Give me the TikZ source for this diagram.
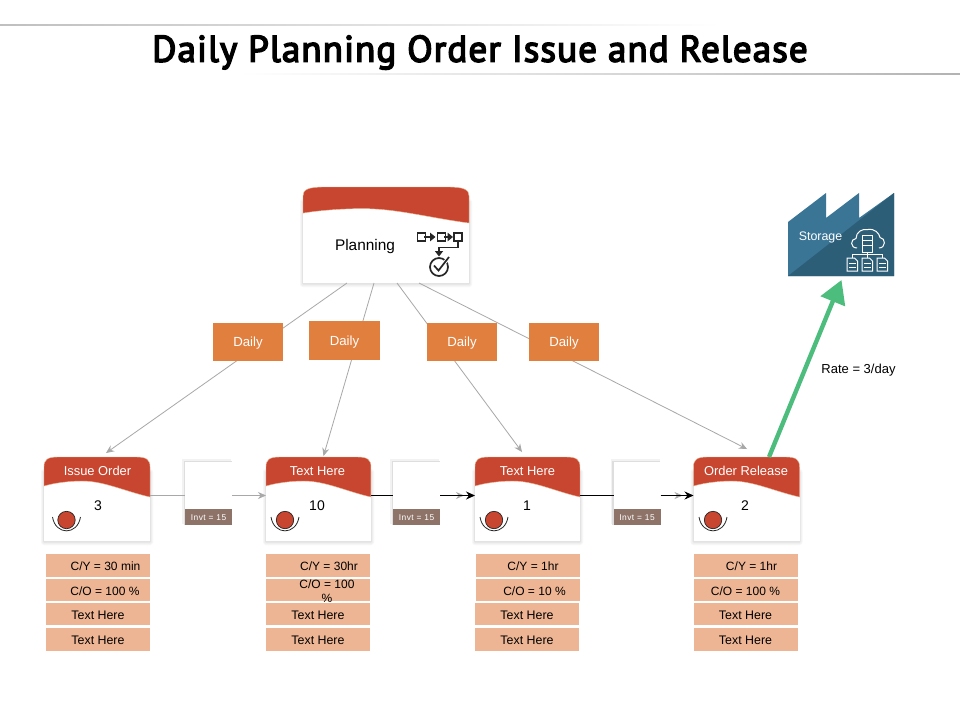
\documentclass[tikz,border=0pt]{standalone}
\usepackage{fontspec}
\setmainfont{Liberation Sans}
\newfontfamily\titlefont[FakeBold=4,LetterSpace=3]{PT Sans}
\usetikzlibrary{arrows.meta}
\definecolor{cardred}{HTML}{C8452F}
\definecolor{dailyor}{HTML}{E07F3E}
\definecolor{rowpeach}{HTML}{EDB594}
\definecolor{invbrown}{HTML}{8E7468}
\definecolor{linegrey}{HTML}{A8A8A8}
\definecolor{arrowgreen}{HTML}{4DBD7E}
\definecolor{factlight}{HTML}{3A7596}
\definecolor{factdark}{HTML}{2D5E78}
\definecolor{iconink}{HTML}{262626}
\tikzset{
  cardbox/.style={fill=white,inner sep=0pt,outer sep=0pt},
  invbox/.style={fill=white,inner sep=0pt,outer sep=0pt,minimum width=47pt,minimum height=63pt},
  invstrip/.style={fill=invbrown,text=white,inner sep=0pt,outer sep=0pt,minimum width=47pt,minimum height=16pt,text height=7pt,text depth=0pt,font=\fontsize{8.4}{9}\selectfont\addfontfeatures{LetterSpace=6}},
  dailybox/.style={fill=dailyor,text=white,inner sep=0pt,outer sep=0pt,minimum width=70pt,minimum height=38pt,text height=9.6pt,text depth=0pt,font=\fontsize{13.2}{14}\selectfont},
  rowbox/.style={fill=rowpeach,inner sep=0pt,outer sep=0pt,minimum width=104pt,text=black,text height=10.4pt,text depth=0pt,font=\fontsize{12.4}{13}\selectfont},
  rowtext/.style={inner sep=0pt,text=black,text height=10.4pt,text depth=0pt,font=\fontsize{12}{13}\selectfont},
  lbl/.style={inner sep=0pt,text=black,font=\fontsize{13}{14}\selectfont},
  headlbl/.style={inner sep=0pt,text=white,text height=10pt,text depth=0pt,font=\fontsize{12.9}{14}\selectfont},
  numlbl/.style={inner sep=0pt,text=black,text height=10pt,text depth=0pt,font=\fontsize{14}{16}\selectfont},
  plainlink/.style={draw=linegrey,line width=.8pt},
  greyarrow/.style={draw=linegrey,line width=.8pt,-{Stealth[length=8pt,width=7pt]}},
  blackline/.style={draw=black,line width=.9pt},
  blackarrow/.style={draw=black,line width=.9pt,-{Stealth[length=9pt,width=8pt]}},
  iconline/.style={draw=iconink,line width=1.7pt},
  iconwhite/.style={draw=white,line width=1pt}
}
\newcommand{\headerwave}[3]{%
  \begin{scope}[shift={(#1)},xscale=#2,yscale=#3]
    \path[fill=cardred,draw=rowpeach,line width=.4pt] (0,29) -- (0,10) .. controls (0,3) and (3,0) .. (14,0) -- (92,0) .. controls (103,0) and (106,3) .. (106,10) -- (106,40) .. controls (80,34) and (60,24) .. (38,24) .. controls (25,24) and (10,26) .. (0,29) -- cycle;
  \end{scope}}
\newcommand{\gaugemark}[2]{%
  \fill[cardred,draw=iconink,line width=.7pt] (#1,#2) circle (8.7pt);
  \draw[iconink,line width=.8pt] (#1-14,#2-3) .. controls (#1-11,#2+15.5) and (#1+11,#2+15.5) .. (#1+14,#2-3);}
\newcommand{\softshadow}[4]{%
  \fill[black!3,rounded corners=3pt] (#1-3,#2+12) rectangle (#3+3,#4+4);
  \fill[black!6,rounded corners=2pt] (#1-2,#2+13) rectangle (#3+2,#4+3);
  \fill[black!11,rounded corners=1pt] (#1-1,#2+14) rectangle (#3+1,#4+1.5);}
\newcommand{\invshadow}[4]{%
  \fill[black!5] (#1-3,#2-3) rectangle (#3-1,#4-1);
  \fill[black!13] (#1-1.5,#2-1.5) rectangle (#3-.5,#4);}
\begin{document}
\begin{tikzpicture}[x=1pt,y=-1pt]
\useasboundingbox (0,0) rectangle (960,720);
\fill[white] (0,0) rectangle (960,720);
% title rules
\shade[left color=black!25,right color=white] (0,24.6) rectangle (720,25.6);
\shade[left color=white,right color=black!30] (240,73.8) rectangle (960,74.8);
\node[inner sep=0pt,text=black] (title) at (480,52.5) {\titlefont\fontsize{37}{40}\selectfont Daily Planning Order Issue and Release};
% cards
\softshadow{303}{187}{469}{283}
\softshadow{44}{457}{150}{541}
\softshadow{266}{457}{371}{541}
\softshadow{475}{457}{580}{541}
\softshadow{693.5}{457}{799.5}{541}
\node[cardbox,minimum width=166pt,minimum height=96pt] (plan) at (386,235) {};
\node[cardbox,minimum width=106pt,minimum height=84pt] (c1) at (97,499) {};
\node[cardbox,minimum width=105pt,minimum height=84pt] (c2) at (318.5,499) {};
\node[cardbox,minimum width=105pt,minimum height=84pt] (c3) at (527.5,499) {};
\node[cardbox,minimum width=106pt,minimum height=84pt] (c4) at (746.5,499) {};
\headerwave{303,187}{1.566}{.9}
\headerwave{44,457}{1}{1}
\headerwave{266,457}{.99}{1}
\headerwave{475,457}{.99}{1}
\headerwave{693.5,457}{1}{1}
% connectors from planning
\draw[greyarrow] ([xshift=-39pt]plan.south) -- ([xshift=9pt,yshift=4pt]c1.north);
\draw[greyarrow] ([xshift=-12pt]plan.south) -- ([xshift=5pt,yshift=1pt]c2.north);
\draw[greyarrow] ([xshift=11pt]plan.south) -- ([xshift=-5.5pt,yshift=5pt]c3.north);
\draw[greyarrow] ([xshift=33pt]plan.south) -- ([xshift=.5pt,yshift=8pt]c4.north);
% inventory
\invshadow{185}{462}{232}{525}
\invshadow{393}{462}{440}{525}
\invshadow{613.5}{462}{660.5}{525}
\node[invbox] (inv1) at (208.5,493.5) {};
\node[invbox] (inv2) at (416.5,493.5) {};
\node[invbox] (inv3) at (637,493.5) {};
\node[invstrip] (s1) at (208.5,517) {Invt = 15};
\node[invstrip] (s2) at (416.5,517) {Invt = 15};
\node[invstrip] (s3) at (637,517) {Invt = 15};
\draw[plainlink] (c1.east |- 0,495.5) -- (inv1.west |- 0,495.5);
\draw[greyarrow] (inv1.east |- 0,495.5) -- (c2.west |- 0,495.5);
\draw[blackline] (c2.east |- 0,495.5) -- (inv2.west |- 0,495.5);
\draw[greyarrow,shorten >=11pt] (inv2.east |- 0,495.5) -- (c3.west |- 0,495.5);
\draw[blackarrow] (inv2.east |- 0,495.5) -- (c3.west |- 0,495.5);
\draw[blackline] (c3.east |- 0,495.5) -- (inv3.west |- 0,495.5);
\draw[greyarrow,shorten >=11pt] (inv3.east |- 0,495.5) -- (c4.west |- 0,495.5);
\draw[blackarrow] (inv3.east |- 0,495.5) -- (c4.west |- 0,495.5);
% daily
\node[dailybox] (d1) at (248,342) {Daily};
\node[dailybox,minimum width=71pt,minimum height=39pt] (d2) at (344.5,340.5) {Daily};
\node[dailybox] (d3) at (462,342) {Daily};
\node[dailybox] (d4) at (564,342) {Daily};
% card text
\node[inner sep=0pt,text=black,font=\fontsize{15.4}{18}\selectfont] (plabel) at (365,246.5) {Planning};
\node[headlbl] (h1) at (97.5,470.5) {Issue Order};
\node[headlbl] (h2) at (317.5,470.5) {Text Here};
\node[headlbl] (h3) at (527.5,470.5) {Text Here};
\node[headlbl] (h4) at (746,470.5) {Order Release};
\node[numlbl] (n1) at (98,505) {3};
\node[numlbl] (n2) at (317,505) {10};
\node[numlbl] (n3) at (527,505) {1};
\node[numlbl] (n4) at (745,505) {2};
\gaugemark{66.5}{520}
\gaugemark{285}{520}
\gaugemark{494}{520}
\gaugemark{713}{520}
% rows column 1
\node[rowbox,minimum height=23pt] (r11) at (98,565.5) {}; \node[rowtext] (t11) at (105.5,565.5) {C/Y = 30 min};
\node[rowbox,minimum height=22pt] (r12) at (98,590) {}; \node[rowtext] (t12) at (105,590) {C/O = 100 \%};
\node[rowbox,minimum height=22pt] (r13) at (98,614) {Text Here};
\node[rowbox,minimum height=23pt] (r14) at (98,639.5) {Text Here};
% rows column 2
\node[rowbox,minimum height=23pt] (r21) at (318,565.5) {}; \node[rowtext] (t21) at (329,565.5) {C/Y = 30hr};
\node[rowbox,minimum height=22pt] (r22) at (318,590) {}; \node[inner sep=0pt,text=black,align=center,font=\fontsize{12}{14.5}\selectfont] (t22) at (327,591) {C/O = 100\\\%};
\node[rowbox,minimum height=22pt] (r23) at (318,614) {Text Here};
\node[rowbox,minimum height=23pt] (r24) at (318,639.5) {Text Here};
% rows column 3
\node[rowbox,minimum height=23pt] (r31) at (528,565.5) {}; \node[rowtext] (t31) at (533,565.5) {C/Y = 1hr};
\node[rowbox,minimum height=22pt] (r32) at (528,590) {}; \node[rowtext] (t32) at (534.5,590) {C/O = 10 \%};
\node[rowbox,minimum height=22pt] (r33) at (527,614) {Text Here};
\node[rowbox,minimum height=23pt] (r34) at (527,639.5) {Text Here};
% rows column 4
\node[rowbox,minimum height=23pt] (r41) at (745.5,565.5) {}; \node[rowtext] (t41) at (751.5,565.5) {C/Y = 1hr};
\node[rowbox,minimum height=22pt] (r42) at (745.5,590) {}; \node[rowtext] (t42) at (745.5,590) {C/O = 100 \%};
\node[rowbox,minimum height=22pt] (r43) at (745.5,614) {Text Here};
\node[rowbox,minimum height=23pt] (r44) at (745.5,639.5) {Text Here};
% storage factory
\fill[factlight] (788,276) -- (788,222) -- (826,193) -- (826,218) -- (859,193) -- (859,218) -- (894,193) -- (894,276) -- cycle;
\fill[factdark] (788,276) -- (894,193) -- (894,276) -- cycle;
\coordinate (factbase) at (841.5,280);
\node[inner sep=0pt,text=white,font=\fontsize{12.4}{14}\selectfont] (storage) at (820.5,237.5) {Storage};
% storage icon
\draw[iconwhite] (857,248) .. controls (850,248) and (850,239) .. (856,238.5) .. controls (856,232) and (862,228.5) .. (868,229.5) .. controls (875,228.5) and (879,233) .. (880,237.5) .. controls (886,238) and (886,248) .. (879,248);
\draw[iconwhite,fill=factdark] (862.5,235) rectangle (872.5,252);
\draw[iconwhite] (862.5,240) -- (872.5,240) (862.5,245.5) -- (872.5,245.5);
\draw[iconwhite] (867.5,252) -- (867.5,258) (852.5,258) -- (852.5,254.5) -- (882.5,254.5) -- (882.5,258);
\foreach \dx in {847,862,877}{
  \draw[iconwhite] (\dx,258) -- (\dx+7.5,258) -- (\dx+10.5,261) -- (\dx+10.5,271) -- (\dx,271) -- cycle;
  \draw[iconwhite] (\dx+2,263.5) -- (\dx+8.5,263.5) (\dx+2,267) -- (\dx+8.5,267);
}
% green arrow
\draw[arrowgreen,line width=4.4pt,-{Stealth[length=23pt,width=25.6pt,inset=0pt]}] ([xshift=22.5pt]c4.north) -- (factbase);
\node[lbl] (rate) at (858.5,370.5) {Rate = 3/day};
% planning icon
\draw[iconline] (417.5,233) rectangle (425.5,241);
\draw[iconline] (437.5,233) rectangle (445.5,241);
\draw[iconline] (454,233) rectangle (462,241);
\draw[iconline,-{Stealth[length=5.5pt,width=8.5pt,inset=0pt]}] (424,237) -- (435.5,237);
\draw[iconline,-{Stealth[length=5.5pt,width=8.5pt,inset=0pt]}] (444,237) -- (453,237);
\draw[iconline,-{Stealth[length=5.5pt,width=8pt,inset=0pt]}] (458,241) -- (458,247.5) -- (439,247.5) -- (439,256.5);
\draw[iconline] (439,267) circle (9pt);
\draw[white,line width=3.5pt] (438.5,270.5) -- (449,257);
\draw[iconline] (434,265.5) -- (438.5,270.5) -- (449,257);
\end{tikzpicture}
\end{document}
